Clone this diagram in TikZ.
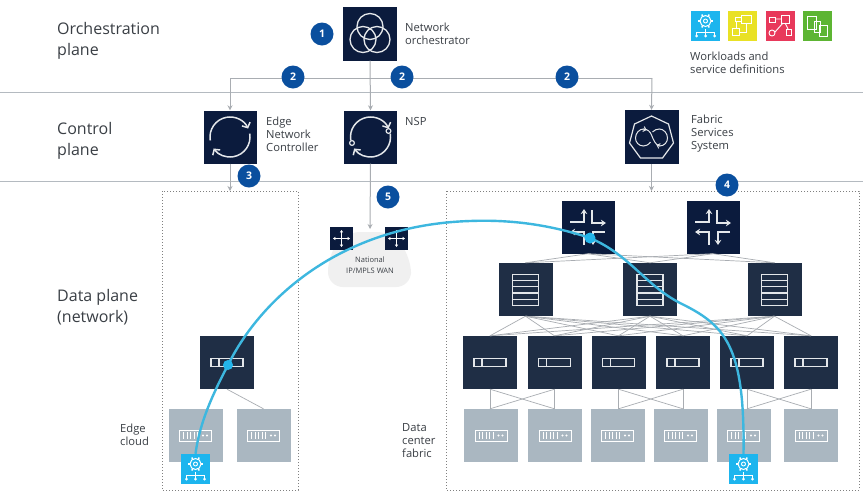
\documentclass[tikz,border=0pt]{standalone}
\usepackage{fontspec}
\setmainfont{Open Sans}
\usetikzlibrary{arrows.meta,calc}
\definecolor{navy}{HTML}{0B1B3D}
\definecolor{tornavy}{HTML}{1F2E45}
\definecolor{srvgray}{HTML}{AAB7C1}
\definecolor{linegray}{HTML}{A9ADB2}
\definecolor{planeline}{HTML}{B4BAC0}
\definecolor{badgeblue}{HTML}{0A4F9E}
\definecolor{flowcyan}{HTML}{3DB7DF}
\definecolor{wlcyan}{HTML}{1DB5EE}
\definecolor{wlyellow}{HTML}{E9E125}
\definecolor{wlred}{HTML}{E8395B}
\definecolor{wlgreen}{HTML}{5DB533}
\definecolor{txt}{HTML}{3A3F45}
\definecolor{icn}{HTML}{E4E7EA}
\tikzset{
  dbox/.style={fill=navy,draw=none,inner sep=0pt,minimum width=#1,minimum height=#1},
  leafbox/.style={fill=tornavy,draw=none,inner sep=0pt,minimum width=54pt,minimum height=53pt},
  srvbox/.style={fill=srvgray,draw=none,inner sep=0pt,minimum width=54pt,minimum height=53pt},
  wlbox/.style={fill=#1,draw=none,inner sep=0pt,minimum width=29pt,minimum height=30pt},
  badge/.style={circle,fill=badgeblue,text=white,inner sep=0pt,minimum size=23pt,font=\fontsize{10.5}{10.5}\selectfont\bfseries},
  plane/.style={font=\fontsize{16}{21}\selectfont,text=txt,align=left,anchor=west,inner sep=0pt},
  lbl/.style={font=\fontsize{11.2}{13}\selectfont,text=txt,align=left,anchor=west,inner sep=0pt},
  arr/.style={draw=linegray,line width=1pt,-{Stealth[length=5pt,width=5pt]}},
  mesh/.style={draw=linegray,line width=0.7pt},
  zone/.style={draw=black!50,line width=0.8pt,dash pattern=on 1pt off 2pt},
  ic/.style={draw=icn,line width=1.2pt,fill=none},
  ictip/.style={draw=icn,line width=1.3pt,-{Stealth[length=5pt,width=6.5pt]}},
  looptip/.style={draw=icn,line width=1.5pt,-{Straight Barb[length=4pt,width=9pt]}},
  orchicon/.pic={
    \draw[ic,line width=1.3pt] (0,-7) circle (13pt) (-7,6) circle (13pt) (7,6) circle (13pt);
  },
  loopicon/.pic={
    \draw[looptip] (190:20pt) arc (190:25:20pt);
    \draw[looptip] (10:20pt) arc (10:-145:20pt);
  },
  nspicon/.pic={
    \draw[looptip] (190:20pt) arc (190:25:20pt);
    \draw[looptip] (10:20pt) arc (10:-145:20pt);
    \draw[ic,fill=navy] (18,-6) circle (2.4pt) (-18.5,6) circle (2.4pt);
  },
  fabricicon/.pic={
    \draw[ic] (0,-21) -- (17,-13) -- (22,6) -- (11,21) -- (-11,21) -- (-22,6) -- (-17,-13) -- cycle;
    \draw[ic,line width=1pt] (-1,5) .. controls (-3,8) and (-6,9) .. (-8,9) .. controls (-13,9) and (-16,5) .. (-16,1) .. controls (-16,-4) and (-12,-8) .. (-8,-8) .. controls (-4,-8) and (-1,-5) .. (0,-2) .. controls (2,3) and (4,8) .. (8,9) .. controls (13,9) and (16,5) .. (16,1) .. controls (16,-4) and (12,-8) .. (8,-8) .. controls (5,-8) and (3,-7) .. (1,-5);
    \draw[looptip,line width=1pt,-{Straight Barb[length=2.5pt,width=5pt]}] (-8,-8) -- (-5,-7);
    \draw[looptip,line width=1pt,-{Straight Barb[length=2.5pt,width=5pt]}] (8,9) -- (5,8);
  },
  spineicon/.pic={
    \draw[ictip] (-18,-5) -- (-4,-5) -- (-4,-18);
    \draw[ictip] (4,-17) -- (4,-4) -- (18,-4);
    \draw[ictip] (17,5) -- (5,5) -- (5,18);
    \draw[ictip] (-4,18) -- (-4,5) -- (-18,5);
  },
  stackicon/.pic={
    \draw[ic] (-13,-15) rectangle (13,16);
    \draw[ic] (-13,-9) -- (13,-9) (-13,-3) -- (13,-3) (-13,3.5) -- (13,3.5) (-13,10) -- (13,10);
  },
  toricon/.pic={
    \draw[ic,line width=1.4pt] (-16,-4) rectangle (16,4);
    \draw[ic,line width=1.4pt] (-8,-4) -- (-8,4);
  },
  servericon/.pic={
    \draw[draw=white,line width=1pt] (-16,-5.5) rectangle (16,5.5);
    \foreach \xx in {-12,-8.5,-5,-1.5,2} \draw[white,line width=0.8pt] (\xx,-3.5) -- (\xx,3.5);
    \fill[white] (7.5,0) circle (1.1pt) (11.5,0) circle (1.1pt);
  },
  moveicon/.pic={
    \draw[draw=white,line width=0.8pt,{Stealth[length=2.6pt,width=3.4pt]}-{Stealth[length=2.6pt,width=3.4pt]}] (-8.5,0) -- (8.5,0);
    \draw[draw=white,line width=0.8pt,{Stealth[length=2.6pt,width=3.4pt]}-{Stealth[length=2.6pt,width=3.4pt]}] (0,-8.5) -- (0,8.5);
  },
  gearicon/.pic={
    \draw[white,line width=1pt] (0,-5) circle (5.5pt);
    \draw[white,line width=0.9pt] (0,-5) circle (2pt);
    \foreach \aa in {0,60,...,300} \draw[white,line width=1.4pt] ($(0,-5)+(\aa:5.5pt)$) -- ($(0,-5)+(\aa:7.5pt)$);
    \draw[white,line width=0.9pt] (0,3) -- (0,9) (-9,6) -- (9,6) (-9,6) -- (-9,9) (9,6) -- (9,9);
    \fill[white] (-9,10) circle (1.5pt) (0,10) circle (1.5pt) (9,10) circle (1.5pt);
  },
  flowicon/.pic={
    \draw[white,line width=0.8pt] (-1,-11) rectangle (9,-3) (-10,2) rectangle (-3,9);
    \draw[white,line width=0.8pt] (-7,-9) rectangle (-1,-5) (-6,-5) -- (-6,2) (-3,6) -- (4,6) -- (4,-3);
  },
  graphicon/.pic={
    \draw[white,line width=0.9pt] (-11,-9) rectangle (-5,-4) (1,-11) rectangle (9,-3) (6,3) rectangle (11,9);
    \draw[white,line width=0.9pt] (-8,7) circle (3pt) (-5,-7) -- (1,-7) (5,-3) -- (8,3) (-5,6) -- (3,-3);
  },
  copyicon/.pic={
    \draw[white,line width=0.8pt] (-10,-10) rectangle (-1,3) (-3,-5) rectangle (3,6) (2,-1) rectangle (10,10);
  }
}
\begin{document}
\begin{tikzpicture}[x=1pt,y=-1pt]
\useasboundingbox (0,0) rectangle (863,491);
\fill[white] (0,0) rectangle (863,491);

% plane separators
\coordinate (p1l) at (0,92); \coordinate (p1r) at (863,92);
\coordinate (p2l) at (0,181); \coordinate (p2r) at (863,181);
\draw[planeline,line width=1pt] (p1l) -- (p1r);
\draw[planeline,line width=1pt] (p2l) -- (p2r);

% zones
\draw[zone] (162,191) rectangle (298,490);
\draw[zone] (446,191) rectangle (859,490);

% control nodes
\node[dbox=54pt] (orch) at (370,33.5) {};
\node[dbox=53pt] (enc) at (230,137) {};
\node[dbox=53pt] (nsp) at (370.5,137) {};
\node[dbox=54pt] (fss) at (651.5,137) {};
\pic at (orch) {orchicon};
\pic at (enc) {loopicon};
\pic at (nsp) {nspicon};
\pic at (fss) {fabricicon};

% cloud
\fill[black!6,rounded corners=15pt] (345,232) -- (392,232) -- (411,258) -- (411,287) -- (328,287) -- (328,256) -- cycle;
\node[dbox=23pt] (wan1) at (341.5,238.5) {};
\node[dbox=23pt] (wan2) at (396.5,238.5) {};
\pic at (wan1) {moveicon};
\pic at (wan2) {moveicon};
\node[font=\fontsize{7.5}{11}\selectfont,text=txt,align=center,inner sep=0pt] (wan) at (370,265) {National\\IP/MPLS WAN};

% control connectors
\coordinate (busl) at (230,78);
\coordinate (busr) at (652,78);
\draw[arr] (orch.south) -- (nsp.north);
\draw[draw=linegray,line width=1pt] (busl) -- (busr);
\draw[arr] (busl) -- (enc.north);
\draw[arr] (busr) -- (fss.north);
\coordinate (enczone) at (230,191);
\coordinate (fsszone) at (651.5,191);
\coordinate (wantop) at (370,229);
\draw[arr] (enc.south) -- (enczone);
\draw[arr] (fss.south) -- (fsszone);
\draw[arr] (nsp.south) -- (wantop);

% fabric nodes
\node[dbox=53pt] (sp1) at (588,227) {};
\node[dbox=53pt] (sp2) at (713,227) {};
\node[leafbox] (lf1) at (525.5,289.5) {};
\node[leafbox] (lf2) at (650,289.5) {};
\node[leafbox] (lf3) at (774.5,289.5) {};
\foreach \n/\x in {t1/490,t2/554.5,t3/618.5,t4/683,t5/747,t6/811}
  \node[leafbox] (\n) at (\x,362.5) {};
\foreach \n/\x in {s1/491,s2/555,s3/617.5,s4/680.5,s5/743.5,s6/811}
  \node[srvbox] (\n) at (\x,435.5) {};
\node[leafbox] (et) at (227,362.5) {};
\node[srvbox] (es1) at (195.5,435.5) {};
\node[srvbox] (es2) at (263.5,435.5) {};

% meshes
\foreach \a in {sp1,sp2} \foreach \b in {lf1,lf2,lf3} \draw[mesh] (\a.south) -- (\b.north);
\foreach \a in {lf1,lf2,lf3} \foreach \b in {t1,t2,t3,t4,t5,t6} \draw[mesh] (\a.south) -- (\b.north);
\foreach \p/\q/\ss in {t1/t2/s1,t3/t4/s3,t5/t6/s5} {
  \draw[mesh] (\p.south) -- (\p.south |- \ss.north);
  \draw[mesh] (\q.south) -- (\q.south |- \ss.north);
  \draw[mesh] (\p.south) -- (\q.south |- \ss.north);
  \draw[mesh] (\q.south) -- (\p.south |- \ss.north);
}
\draw[mesh] (et.south) -- (es2.north);

% icons
\pic at (sp1) {spineicon};
\pic at (sp2) {spineicon};
\foreach \n in {lf1,lf2,lf3} \pic at (\n) {stackicon};
\foreach \n in {t1,t2,t3,t4,t5,t6,et} \pic at (\n) {toricon};
\foreach \n in {s1,s2,s3,s4,s5,s6,es1,es2} \pic at (\n) {servericon};

% workloads
\node[wlbox=wlcyan] (w1) at (195.5,469) {};
\node[wlbox=wlcyan] (w2) at (743.5,469) {};
\pic at (w1) {gearicon};
\pic at (w2) {gearicon};
\node[wlbox=wlcyan] (k1) at (705.5,26) {};
\node[wlbox=wlyellow] (k2) at (742.5,26) {};
\node[wlbox=wlred] (k3) at (780,26) {};
\node[wlbox=wlgreen] (k4) at (817.5,26) {};
\pic at (k1) {gearicon};
\pic at (k2) {flowicon};
\pic at (k3) {graphicon};
\pic at (k4) {copyicon};

% flow curve
\coordinate (dota) at (228,365);
\coordinate (peak) at (470,221);
\coordinate (dotb) at (590,238);
\coordinate (bend) at (680,303);
\draw[flowcyan,line width=2.4pt] (w1.north) .. controls (200,420) and (215,390) .. (dota)
  .. controls (260,300) and (340,225) .. (peak)
  .. controls (520,219) and (560,228) .. (dotb)
  .. controls (630,255) and (645,285) .. (bend)
  .. controls (725,325) and (745,345) .. (w2.north);
\fill[wlcyan!80!flowcyan] (dota) circle (5pt);
\fill[wlcyan!80!flowcyan] (dotb) circle (5.5pt);

% badges
\node[badge] (b1) at (322,34) {1};
\node[badge] (b2a) at (293,77) {2};
\node[badge] (b2b) at (402,77) {2};
\node[badge] (b2c) at (567,77) {2};
\node[badge] (b3) at (249,176) {3};
\node[badge] (b5) at (388,197) {5};
\node[badge] (b4) at (727,185) {4};

% texts
\node[plane] (torch) at (57,41) {Orchestration\\plane};
\node[plane] (tctrl) at (57,140.5) {Control\\plane};
\node[plane] (tdata) at (57,307.5) {Data plane\\(network)};
\node[lbl] (torc) at (405,34) {Network\\orchestrator};
\node[lbl] (tenc) at (266,134) {Edge\\Network\\Controller};
\node[lbl] (tnsp) at (405,121) {NSP};
\node[lbl] (tfss) at (691,134) {Fabric\\Services\\System};
\node[lbl] (twl) at (690,63) {Workloads and\\service definitions};
\node[lbl] (tedge) at (120,435) {Edge\\cloud};
\node[lbl] (tdc) at (402,441) {Data\\center\\fabric};
\end{tikzpicture}
\end{document}
